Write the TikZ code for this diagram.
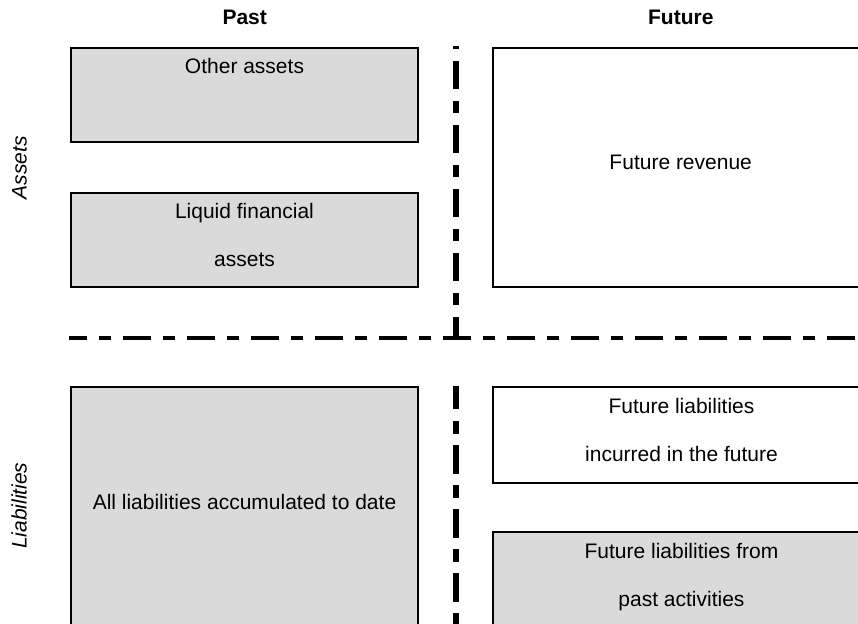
\documentclass[tikz,border=0pt]{standalone}
\usepackage{fontspec}
\setmainfont{Liberation Sans}
\definecolor{boxgray}{RGB}{218,218,218}
\begin{document}
\begin{tikzpicture}[x=0.75pt,y=-0.75pt,
  box/.style={line width=1.5pt, draw=black, fill=white},
  pastbox/.style={box, fill=boxgray},
  lbl/.style={anchor=base, font=\fontsize{15.75}{36}\selectfont, align=center, inner sep=0pt},
  head/.style={anchor=base, font=\fontsize{15.75}{19}\selectfont\bfseries, inner sep=0pt},
  side/.style={anchor=base, rotate=90, font=\fontsize{15.75}{19}\selectfont\itshape, inner sep=0pt},
  hsep/.style={line width=3pt, dash pattern=on 20.625pt off 9pt on 9.375pt off 9pt},
  vsep/.style={line width=4.1pt, dash pattern=on 21.375pt off 8.625pt on 9.375pt off 8.625pt}
]
\useasboundingbox (0,0) rectangle (858,624);
\clip (0,0) rectangle (858,624);

% column and row headings
\node[head] (past) at (244.7,25) {Past};
\node[head] (future) at (680.8,25) {Future};
\node[side] (assets) at (26.7,167.5) {Assets};
\node[side] (liab) at (26.7,505.8) {Liabilities};

% asset boxes
\draw[pastbox] (71,47.7) rectangle (418.3,142.3);
\draw[pastbox] (71,192.7) rectangle (418.3,287);
\draw[box] (492.5,47.7) rectangle (880,287.5);

% liability boxes
\draw[pastbox] (71,387.5) rectangle (418.3,660);
\draw[box] (492.5,387.5) rectangle (880,482.5);
\draw[pastbox] (492.5,531.5) rectangle (880,660);

% box texts (two-line labels are placed by the baseline of their last line)
\node[lbl] (other) at (244.5,74) {Other assets};
\node[lbl] (liquid) at (244.5,266.7) {Liquid financial\\assets};
\node[lbl] (revenue) at (680.7,170) {Future revenue};
\node[lbl] (accum) at (244.5,509.3) {All liabilities accumulated to date};
\node[lbl] (incurred) at (681.5,461.7) {Future liabilities\\incurred in the future};
\node[lbl] (frompast) at (681.5,606) {Future liabilities from\\past activities};

% separators between past/future and assets/liabilities
\coordinate (hL) at (69.3,338);
\coordinate (hR) at (858,338);
\coordinate (vT) at (456,46);
\coordinate (vM) at (456,340);
\coordinate (vB1) at (456,386);
\coordinate (vB2) at (456,630);
\draw[hsep, dash phase=7.5pt] (hL) -- (hR);
\draw[vsep, dash phase=37pt] (vT) -- (vM);
\draw[vsep, dash phase=3.75pt] (vB1) -- (vB2);
\end{tikzpicture}
\end{document}
